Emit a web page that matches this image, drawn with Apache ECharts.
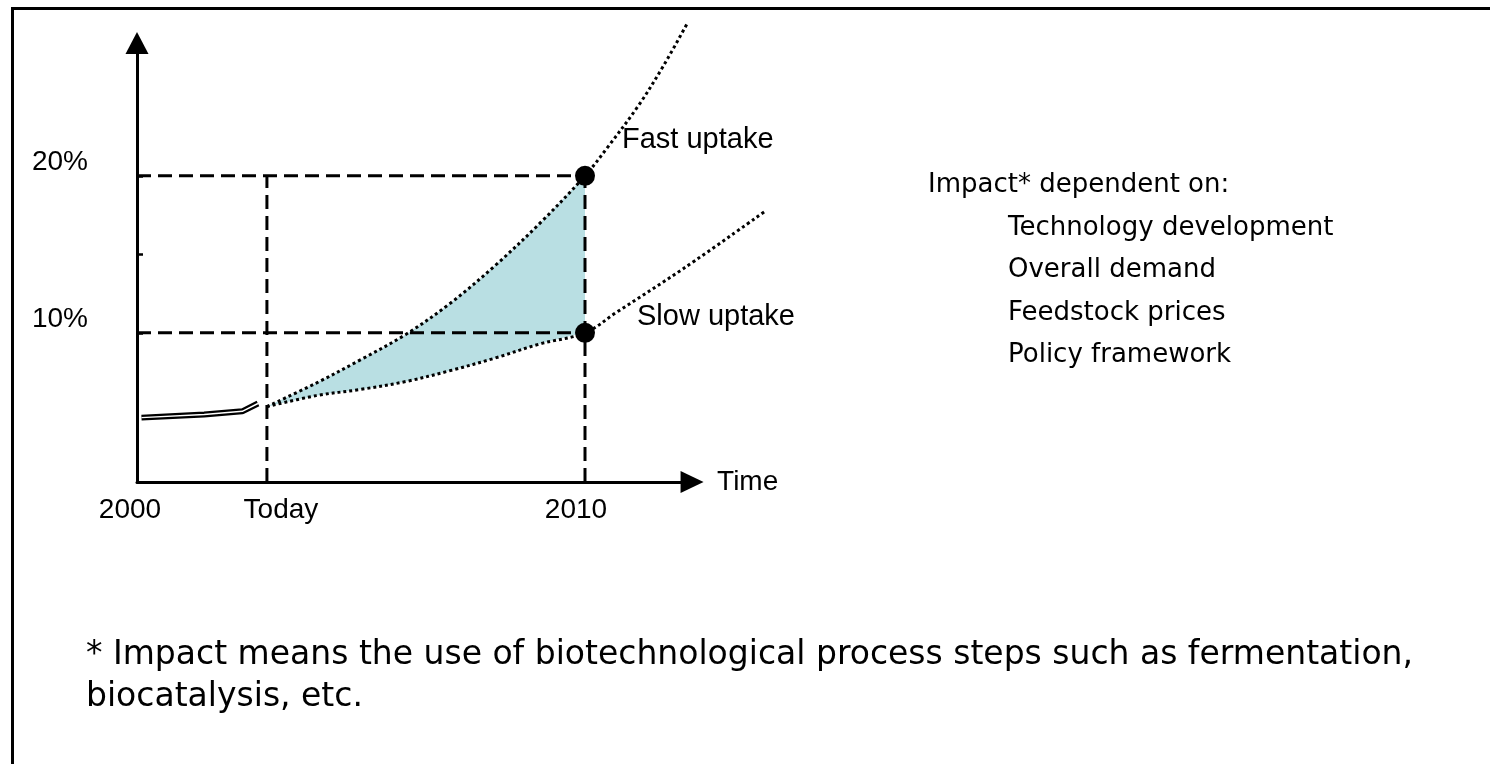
<!DOCTYPE html>
<html>
<head>
<meta charset="utf-8">
<title>Impact uptake</title>
<script src="https://cdn.jsdelivr.net/npm/echarts@6/dist/echarts.min.js"></script>
<style>
  html, body { margin: 0; padding: 0; background: #fff; }
  #chart { width: 1490px; height: 764px; }
</style>
</head>
<body>
<div id="chart"></div>
<script>
// x = year, y = share in %
const TODAY = 2002.9;

const histYears = [2000.1, 2001.5, 2002.35, 2002.7];
const histValues = [4.6, 4.8, 5.0, 5.5];

const fastYears = [2002.9, 2004, 2005, 2006, 2007, 2008, 2009, 2010, 2010.5, 2011.2, 2011.75, 2012.3];
const fastValues = [5.3, 6.8, 8.3, 9.9, 11.9, 14.3, 17.0, 20, 21.8, 24.5, 27.0, 29.8];

const slowYears = [2002.9, 2004, 2005, 2006, 2007, 2008, 2009, 2010, 2010.7, 2012.2, 2014];
const slowValues = [5.3, 6.0, 6.4, 6.9, 7.6, 8.4, 9.3, 10, 11.3, 14.1, 17.7];

const endPoints = [[2010, 20, "Fast uptake"], [2010, 10, "Slow uptake"]];
const levels = [20, 10];
const guideYears = [TODAY, 2010];

const xLabelValues = [2000, TODAY, 2010];
const yLabelValues = [10, 20];
const yTickValues = [10, 15, 20];

const factorsTitle = "Impact* dependent on:";
const factors = ["Technology development", "Overall demand", "Feedstock prices", "Policy framework"];
const footnote = [
  "* Impact means the use of biotechnological process steps such as fermentation,",
  "biocatalysis, etc.",
];

const pairs = (xs, ys) => xs.map((x, i) => [x, ys[i]]);

// shaded band Today .. 2010: teal under the fast curve, white under the slow one
const nBand = 8;
const bandYears = fastYears.slice(0, nBand);

const AXIS_FONT = "Liberation Sans";
const TEXT_FONT = "DejaVu Sans";
const dashed = { color: "#000", width: 3, type: [14, 7] };
const dotted = { color: "#000", width: 3, type: [3, 3], cap: "butt" };

// same scale as the visible axes, but wide enough for the slow curve's tail
const X_MIN = 2000, X_MAX = 2012.39, X_MAX_WIDE = 2014.1;
const PX_PER_YEAR = 44.8;

const chart = echarts.init(document.getElementById("chart"));

const bandSeries = (ys, color, origin) => ({
  type: "line",
  data: pairs(bandYears, ys.slice(0, nBand)),
  smooth: 0.35,
  symbol: "none",
  silent: true,
  lineStyle: { opacity: 0 },
  areaStyle: { color, opacity: 1, origin },
  z: 1,
});

const guideSeries = [
  ...levels.map((v) => ({
    type: "line", data: [[2000, v], [2010, v]], symbol: "none", silent: true, lineStyle: dashed, z: 3,
  })),
  ...guideYears.map((x) => ({
    type: "line", data: [[x, 0.5], [x, 20]], symbol: "none", silent: true, lineStyle: dashed, z: 3,
  })),
];

chart.setOption({
  animation: false,
  grid: [
    { left: 137, width: (X_MAX - X_MIN) * PX_PER_YEAR, top: 43, bottom: 282 },
    { left: 137, width: (X_MAX_WIDE - X_MIN) * PX_PER_YEAR, top: 43, bottom: 282 },
  ],
  xAxis: [
    {
      type: "value",
      min: X_MIN,
      max: X_MAX,
      splitLine: { show: false },
      axisTick: { show: false },
      axisLine: { show: true, symbol: ["none", "triangle"], symbolSize: [22, 23], lineStyle: { color: "#000", width: 3 } },
      axisLabel: {
        customValues: xLabelValues,
        margin: 14,
        formatter: (v) => (v === 2000 ? "{a|2000}" : v === 2010 ? "{c|2010}" : "{b|Today}"),
        rich: {
          a: { fontFamily: AXIS_FONT, fontSize: 28, color: "#000", padding: [0, 14, 0, 0] },
          b: { fontFamily: AXIS_FONT, fontSize: 28, color: "#000", padding: [0, 0, 0, 28] },
          c: { fontFamily: AXIS_FONT, fontSize: 28, color: "#000", padding: [0, 18, 0, 0] },
        },
      },
      name: "Time",
      nameLocation: "end",
      nameGap: 25,
      nameTextStyle: { fontFamily: AXIS_FONT, fontSize: 28, color: "#000", padding: [0, 0, 8, 0] },
    },
    { type: "value", gridIndex: 1, min: X_MIN, max: X_MAX_WIDE, show: false },
  ],
  yAxis: [
    {
      type: "value",
      min: 0.5,
      max: 28.46,
      splitLine: { show: false },
      axisLine: { show: true, symbol: ["none", "triangle"], symbolSize: [23, 22], lineStyle: { color: "#000", width: 3 } },
      axisTick: { show: true, inside: true, length: 6, customValues: yTickValues, lineStyle: { color: "#000", width: 2.5 } },
      axisLabel: {
        customValues: yLabelValues,
        formatter: (v) => v + "%",
        margin: 49,
        verticalAlign: "bottom",
        fontFamily: AXIS_FONT,
        fontSize: 28,
        color: "#000",
      },
    },
    { type: "value", gridIndex: 1, min: 0.5, max: 28.46, show: false },
  ],
  graphic: [
    { type: "line", shape: { x1: 11, y1: 8.5, x2: 1490, y2: 8.5 }, style: { stroke: "#000", lineWidth: 3 } },
    { type: "line", shape: { x1: 12.5, y1: 8, x2: 12.5, y2: 764 }, style: { stroke: "#000", lineWidth: 3 } },
    {
      type: "text", x: 928, y: 185,
      style: { text: factorsTitle, fontFamily: TEXT_FONT, fontSize: 26, fill: "#000", verticalAlign: "middle" },
    },
    ...factors.map((t, i) => ({
      type: "text", x: 1008, y: 228 + i * 42.5,
      style: { text: t, fontFamily: TEXT_FONT, fontSize: 26, fill: "#000", verticalAlign: "middle" },
    })),
    ...footnote.map((t, i) => ({
      type: "text", x: 86, y: 655 + i * 42,
      style: { text: t, fontFamily: TEXT_FONT, fontSize: 33, fill: "#000", verticalAlign: "middle" },
    })),
  ],
  series: [
    bandSeries(fastValues, "#b9dfe3", 3),
    bandSeries(slowValues, "#ffffff", 2.5),
    ...guideSeries,
    {
      type: "line", data: pairs(histYears, histValues), symbol: "none", silent: true,
      lineStyle: { color: "#000", width: 6 }, z: 4,
    },
    {
      type: "line", data: pairs(histYears, histValues), symbol: "none", silent: true,
      lineStyle: { color: "#fff", width: 1.5 }, z: 4,
    },
    {
      type: "line", data: pairs(fastYears, fastValues), smooth: 0.35, symbol: "none", clip: false,
      silent: true, lineStyle: dotted, z: 5,
    },
    {
      type: "line", xAxisIndex: 1, yAxisIndex: 1,
      data: pairs(slowYears, slowValues), smooth: 0.35, symbol: "none", clip: false,
      silent: true, lineStyle: dotted, z: 5,
    },
    {
      type: "scatter",
      symbolSize: 20,
      itemStyle: { color: "#000", opacity: 1 },
      z: 6,
      data: endPoints.map((p, i) => ({
        value: [p[0], p[1]],
        label: {
          show: true,
          formatter: p[2],
          position: i === 0 ? [47, -26] : [62, -6],
          align: "left",
          verticalAlign: "middle",
          fontFamily: AXIS_FONT,
          fontSize: 29,
          color: "#000",
        },
      })),
    },
  ],
});
</script>
</body>
</html>
